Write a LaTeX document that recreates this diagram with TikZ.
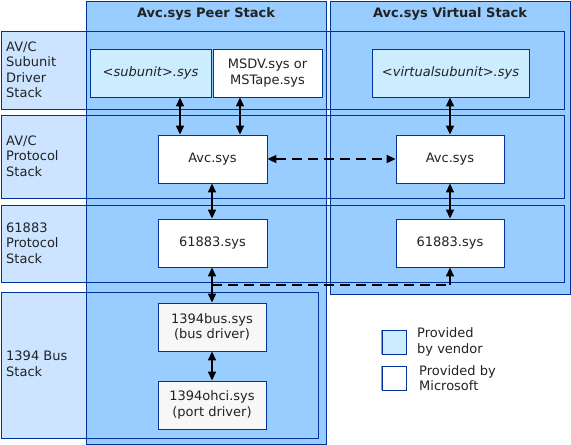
\documentclass[tikz,border=0pt]{standalone}
\usepackage{fontspec}
\setmainfont{DejaVu Sans}
\usetikzlibrary{arrows.meta}
\definecolor{bandfill}{RGB}{204,228,255}
\definecolor{colfill}{RGB}{153,204,255}
\definecolor{vendfill}{RGB}{204,236,255}
\definecolor{edge}{RGB}{0,51,153}
\definecolor{lightedge}{RGB}{120,155,220}
\definecolor{ink}{RGB}{34,34,34}
\definecolor{msfill}{RGB}{247,247,247}
\begin{document}
\begin{tikzpicture}[x=1pt,y=-1pt,
  font=\fontsize{13pt}{15.5pt}\selectfont, text=ink,
  frame/.style={draw=edge, line width=0.9pt},
  comp/.style={draw=edge, line width=0.9pt, inner sep=0pt, align=center, minimum height=48pt},
  vendor/.style={comp, fill=vendfill},
  ms/.style={comp, fill=white},
  msg/.style={comp, fill=msfill},
  rowlabel/.style={anchor=west, align=left, inner sep=0pt},
  header/.style={font=\fontsize{13pt}{15.5pt}\selectfont\bfseries, inner sep=0pt},
  link/.style={line width=1.5pt, {Triangle[width=8pt,length=9pt]}-{Triangle[width=8pt,length=9pt]}},
  dlink/.style={line width=2pt, dash pattern=on 10pt off 6pt, {Triangle[width=8pt,length=9pt]}-{Triangle[width=8pt,length=9pt]}},
  legbox/.style={draw=edge, line width=0.9pt}]
\useasboundingbox (0,0) rectangle (571,445);
% band fills
\fill[bandfill] (1,31) rectangle (564,109);
\fill[bandfill] (1,115) rectangle (564,198);
\fill[bandfill] (1,205) rectangle (564,282);
\fill[bandfill] (1,292) rectangle (318,438);
% column fills
\fill[colfill] (86,1) rectangle (326,444);
\fill[colfill] (330,1) rectangle (570,294);
% borders
\draw[frame] (86,1) rectangle (326,444);
\draw[frame] (330,1) rectangle (570,294);
\draw[frame] (1,31) rectangle (564,109);
\draw[frame] (1,115) rectangle (564,198);
\draw[frame] (1,205) rectangle (564,282);
\draw[frame] (1,292) rectangle (318,438);
% headers
\node[header] (hpeer) at (206,14) {Avc.sys Peer Stack};
\node[header] (hvirt) at (450,14) {Avc.sys Virtual Stack};
% row labels
\node[rowlabel] (l1) at (6,70) {AV/C\\Subunit\\Driver\\Stack};
\node[rowlabel] (l2) at (6,156) {AV/C\\Protocol\\Stack};
\node[rowlabel] (l3) at (6,243) {61883\\Protocol\\Stack};
\node[rowlabel] (l4) at (6,364) {1394 Bus\\Stack};
% components
\node[vendor, minimum width=121pt] (sub) at (150.5,73) {\itshape <subunit>.sys};
\node[ms, minimum width=109pt] (msdv) at (267.5,73) {MSDV.sys or\\MSTape.sys};
\node[vendor, minimum width=157pt] (vsub) at (450.5,73) {\itshape <virtualsubunit>.sys};
\node[ms, minimum width=109pt] (avcp) at (212.5,159) {Avc.sys};
\node[ms, minimum width=108pt] (avcv) at (450,159) {Avc.sys};
\node[ms, minimum width=109pt] (pst) at (212.5,243) {61883.sys};
\node[ms, minimum width=108pt] (vst) at (450,243) {61883.sys};
\node[msg, minimum width=108pt] (bus) at (212,327) {1394bus.sys\\(bus driver)};
\node[msg, minimum width=108pt] (ohci) at (212,405) {1394ohci.sys\\(port driver)};
% helper x positions
\coordinate (xA) at (180,0);
\coordinate (xB) at (240,0);
\coordinate (xC) at (450,0);
\coordinate (xD) at (212,0);
\coordinate (jn) at (212,285);
% connectors
\draw[link] (sub.south -| xA) -- (avcp.north -| xA);
\draw[link] (msdv.south -| xB) -- (avcp.north -| xB);
\draw[link] (vsub.south -| xC) -- (avcv.north -| xC);
\draw[dlink] (avcp.east) -- (avcv.west);
\draw[link] (avcp.south -| xD) -- (pst.north -| xD);
\draw[link] (avcv.south -| xC) -- (vst.north -| xC);
\draw[link] (pst.south -| xD) -- (bus.north -| xD);
\draw[link] (bus.south -| xD) -- (ohci.north -| xD);
\draw[line width=2pt, dash pattern=on 10pt off 6pt] (jn) -- ([xshift=-4pt]jn -| xC);
\draw[line width=1.5pt, -{Triangle[width=8pt,length=9pt]}] (jn -| xC) -- (vst.south -| xC);
% legend
\node[legbox, fill=vendfill, minimum width=24pt, minimum height=24pt, inner sep=0pt] (lv) at (394,342) {};
\draw[lightedge, line width=1.5pt] (lv.south west) -- (lv.north west);
\node[rowlabel] (lvt) at (417,342) {Provided\\by vendor};
\node[legbox, fill=white, minimum width=24pt, minimum height=24pt, inner sep=0pt] (lm) at (394,378) {};
\draw[lightedge, line width=1.5pt] (lm.south west) -- (lm.north west);
\node[rowlabel] (lmt) at (419,378) {Provided by\\Microsoft};
\end{tikzpicture}
\end{document}
